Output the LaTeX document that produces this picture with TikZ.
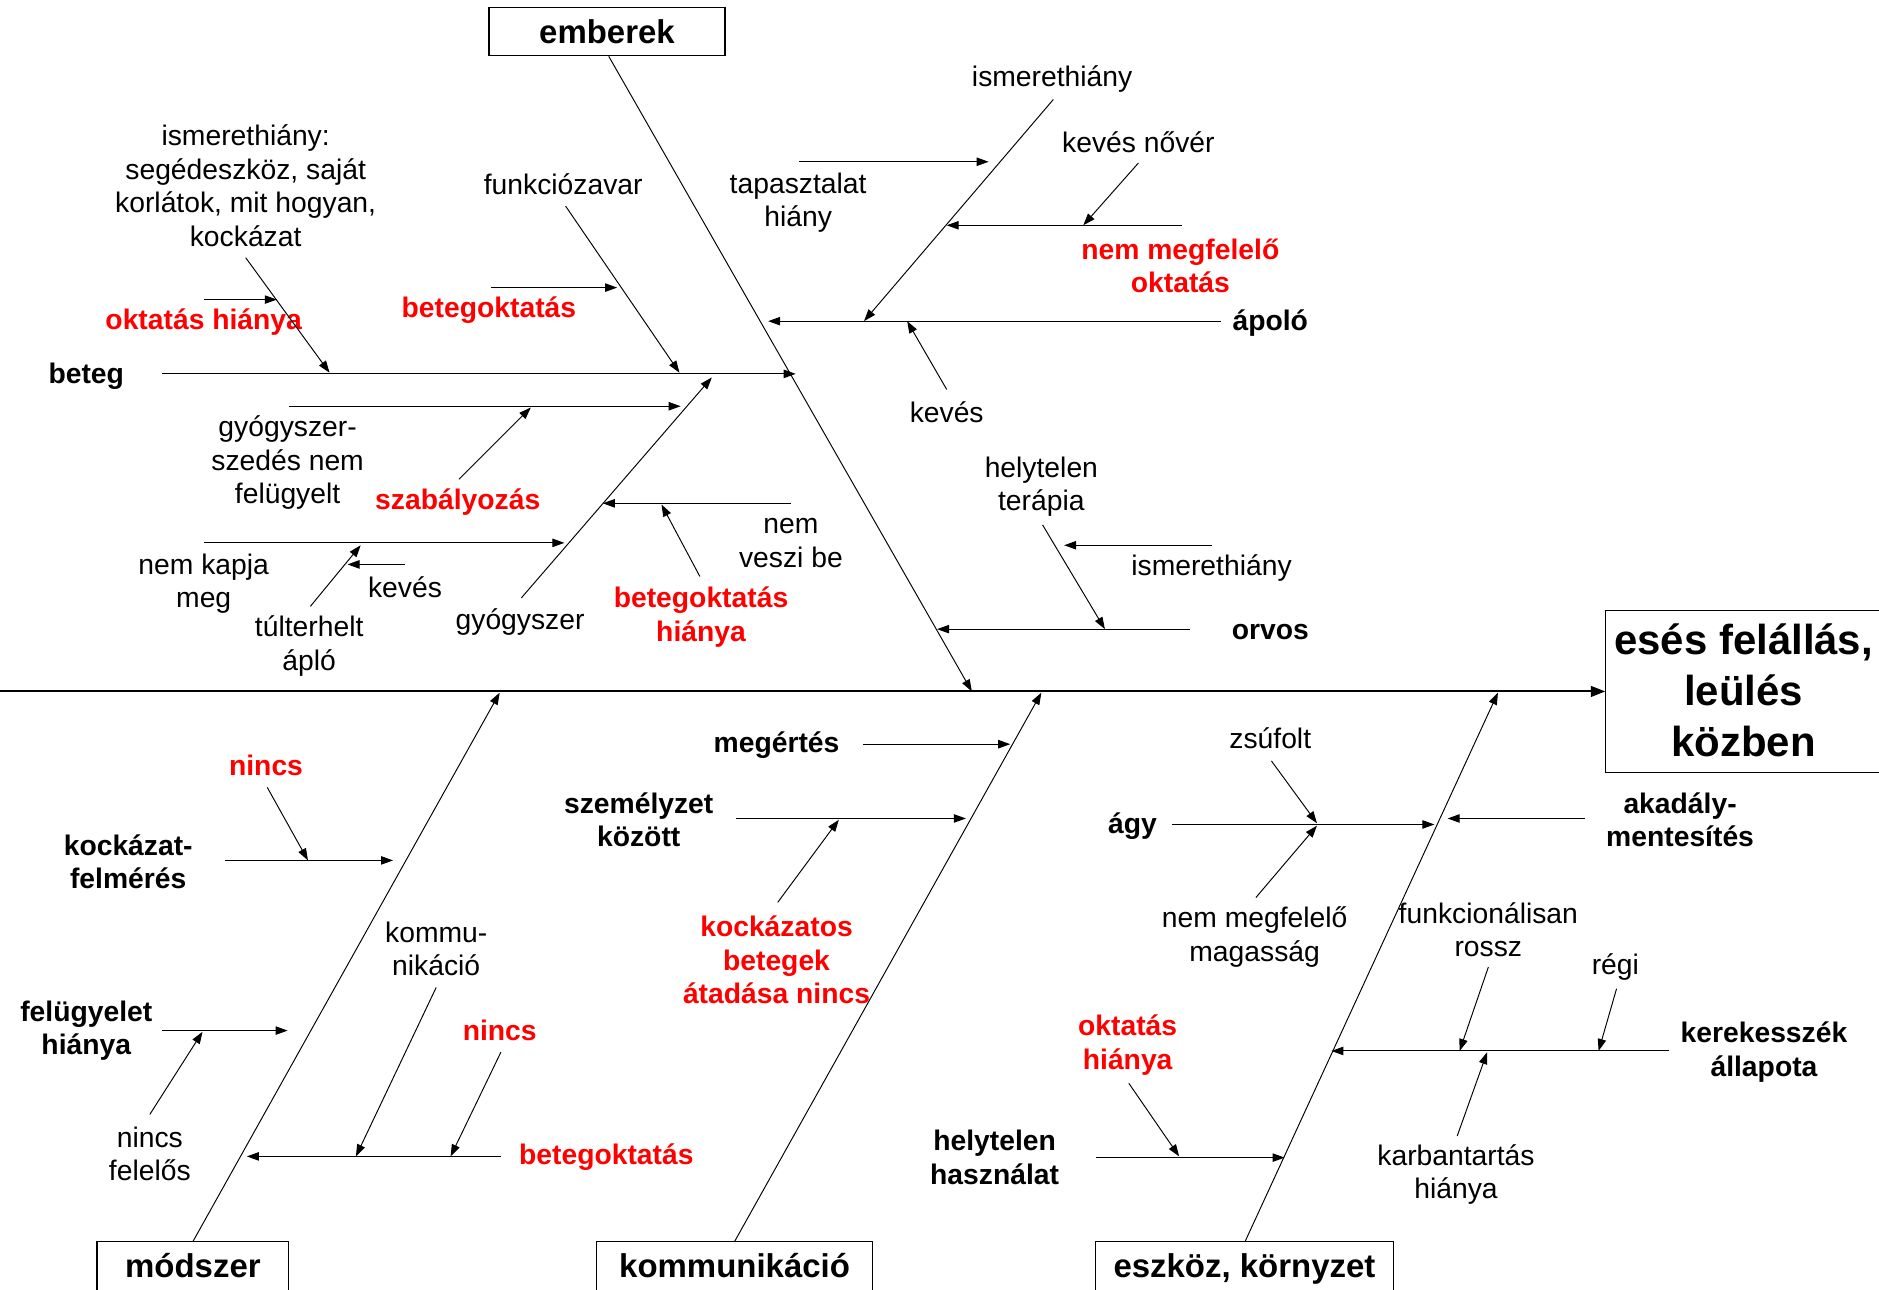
\documentclass[tikz,border=0pt]{standalone}
\usepackage{fontspec}
\setmainfont{Liberation Sans}
\usetikzlibrary{arrows.meta}
\definecolor{fbred}{RGB}{255,0,0}
\begin{document}
\begin{tikzpicture}[x=1pt,y=-1pt,
  txt/.style={inner sep=0pt, align=center, yshift=-2pt, font=\fontsize{23.6}{28}\selectfont},
  btxt/.style={inner sep=0pt, align=center, yshift=-2pt, font=\fontsize{23.6}{28}\selectfont\bfseries},
  rtxt/.style={btxt, text=fbred},
  catbox/.style={draw, line width=1pt, inner sep=0pt, font=\fontsize{27.5}{33}\selectfont\bfseries},
  ar/.style={line width=0.8pt, -{Triangle[length=10pt,width=7pt]}},
  spine/.style={line width=1.6pt, -{Triangle[length=12pt,width=9pt]}}
]
\useasboundingbox (0,0) rectangle (1568,1076);

% ---------- head and category boxes ----------
\node[draw, line width=1pt, minimum width=240pt, minimum height=135pt, inner sep=0pt] (headbox) at (1460,577) {};
\node[inner sep=0pt, align=center, font=\fontsize{35}{42.5}\selectfont\bfseries] (head) at (1455,576) {esés felállás,\\leülés\\közben};
\node[catbox, minimum width=197pt, minimum height=40pt] (emb) at (506.5,26.5) {emberek};
\node[catbox, minimum width=160pt, minimum height=60pt, text depth=20pt] (mod) at (161,1066) {módszer};
\node[catbox, minimum width=230pt, minimum height=60pt, text depth=20pt] (kom) at (613,1066) {kommunikáció};
\node[catbox, minimum width=249pt, minimum height=60pt, text depth=20pt] (esz) at (1038.5,1066) {eszköz, környzet};

% ---------- spine ----------
\coordinate (sp0) at (0,577);
\draw[spine] (sp0) -- (headbox.west);

% ---------- main bones ----------
\coordinate (b1s) at (508,47);   \coordinate (b1e) at (811,577);
\coordinate (b2s) at (161,1036); \coordinate (b2e) at (417,578);
\coordinate (b3s) at (613,1036); \coordinate (b3e) at (869,578);
\coordinate (b4s) at (1039,1036);\coordinate (b4e) at (1250,578);
\draw[ar] (b1s) -- (b1e);
\draw[ar] (b2s) -- (b2e);
\draw[ar] (b3s) -- (b3e);
\draw[ar] (b4s) -- (b4e);

% ---------- emberek: beteg ----------
\node[btxt] (tbeteg) at (72,312) {beteg};
\node[txt] (tism1) at (205,153) {ismerethiány:\\segédeszköz, saját\\korlátok, mit hogyan,\\kockázat};
\node[rtxt] (tokt1) at (170,267) {oktatás hiánya};
\node[txt] (tfunk) at (470,152) {funkciózavar};
\node[rtxt] (tbo1) at (408,257) {betegoktatás};
\node[txt] (tgysz) at (240,384) {gyógyszer-\\szedés nem\\felügyelt};
\node[rtxt] (tszab) at (382,417) {szabályozás};
\node[txt] (tnemk) at (170,485) {nem kapja\\meg};
\node[txt] (ttult) at (258,537) {túlterhelt\\ápló};
\node[txt] (tkev1) at (338,488) {kevés};
\node[txt] (tgyogy) at (434,517) {gyógyszer};
\node[txt] (tnemv) at (660,451) {nem\\veszi be};
\node[rtxt] (tboh) at (585,513) {betegoktatás\\hiánya};

\coordinate (a1s) at (135,312);  \coordinate (a1e) at (664,312);
\coordinate (a2s) at (205,215);  \coordinate (a2e) at (275,311);
\coordinate (a3s) at (170,250);  \coordinate (a3e) at (231,250);
\coordinate (a4s) at (472,172);  \coordinate (a4e) at (567,311);
\coordinate (a5s) at (410,240);  \coordinate (a5e) at (515,240);
\coordinate (a6s) at (241,339);  \coordinate (a6e) at (568,339);
\coordinate (a7s) at (383,400);  \coordinate (a7e) at (443,340);
\coordinate (a8s) at (435,499);  \coordinate (a8e) at (594,315);
\coordinate (a9s) at (170,453);  \coordinate (a9e) at (471,453);
\coordinate (a10s) at (259,506); \coordinate (a10e) at (301,455);
\coordinate (a11s) at (338,471); \coordinate (a11e) at (290,471);
\coordinate (a12s) at (660,420); \coordinate (a12e) at (503,420);
\coordinate (a13s) at (584,481); \coordinate (a13e) at (552,421);
\foreach \i in {1,...,13} {\draw[ar] (a\i s) -- (a\i e);}

% ---------- emberek: ápoló, orvos ----------
\node[btxt] (tapolo) at (1060,268) {ápoló};
\node[txt] (tism2) at (878,64) {ismerethiány};
\node[txt] (ttap) at (666,167) {tapasztalat\\hiány};
\node[txt] (tkevn) at (950,117) {kevés nővér};
\node[rtxt] (tnmo) at (985,220) {nem megfelelő\\oktatás};
\node[txt] (tkev2) at (790,342) {kevés};
\node[txt] (thelyt) at (869,404) {helytelen\\terápia};
\node[txt] (tism3) at (1011,472) {ismerethiány};
\node[btxt] (torvos) at (1060,525) {orvos};

\coordinate (c1s) at (1019,268); \coordinate (c1e) at (641,268);
\coordinate (c2s) at (879,83);   \coordinate (c2e) at (721,268);
\coordinate (c3s) at (667,135);  \coordinate (c3e) at (825,135);
\coordinate (c4s) at (950,136);  \coordinate (c4e) at (904,188);
\coordinate (c5s) at (986,188);  \coordinate (c5e) at (790,188);
\coordinate (c6s) at (790,325);  \coordinate (c6e) at (757,268);
\coordinate (c7s) at (993,525);  \coordinate (c7e) at (782,525);
\coordinate (c8s) at (870,438);  \coordinate (c8e) at (922,525);
\coordinate (c9s) at (1011,455); \coordinate (c9e) at (888,455);
\foreach \i in {1,...,9} {\draw[ar] (c\i s) -- (c\i e);}

% ---------- módszer ----------
\node[btxt] (tkockf) at (107,717) {kockázat-\\felmérés};
\node[rtxt] (tnincs1) at (222,637) {nincs};
\node[btxt] (tfelu) at (72,858) {felügyelet\\hiánya};
\node[txt] (tnincsf) at (125,961) {nincs\\felelős};
\node[txt] (tkommu) at (364,790) {kommu-\\nikáció};
\node[rtxt] (tnincs2) at (417,858) {nincs};
\node[rtxt] (tbo2) at (506,964) {betegoktatás};

\coordinate (d1s) at (188,718);  \coordinate (d1e) at (328,718);
\coordinate (d2s) at (223,657);  \coordinate (d2e) at (257,718);
\coordinate (d3s) at (135,860);  \coordinate (d3e) at (240,860);
\coordinate (d4s) at (125,930);  \coordinate (d4e) at (169,861);
\coordinate (d5s) at (364,824);  \coordinate (d5e) at (297,965);
\coordinate (d6s) at (418,878);  \coordinate (d6e) at (376,965);
\coordinate (d7s) at (418,965);  \coordinate (d7e) at (206,965);
\foreach \i in {1,...,7} {\draw[ar] (d\i s) -- (d\i e);}

% ---------- kommunikáció ----------
\node[btxt] (tmeg) at (648,620) {megértés};
\node[btxt] (tszem) at (533,682) {személyzet\\között};
\node[rtxt] (tkockb) at (648,799) {kockázatos\\betegek\\átadása nincs};

\coordinate (e1s) at (720,621);  \coordinate (e1e) at (843,621);
\coordinate (e2s) at (614,683);  \coordinate (e2e) at (806,683);
\coordinate (e3s) at (649,753);  \coordinate (e3e) at (700,684);
\foreach \i in {1,...,3} {\draw[ar] (e\i s) -- (e\i e);}

% ---------- eszköz, környzet ----------
\node[txt] (tzsuf) at (1060,614) {zsúfolt};
\node[btxt] (tagy) at (945,687) {ágy};
\node[txt] (tnmm) at (1047,780) {nem megfelelő\\magasság};
\node[btxt] (takad) at (1402,682) {akadály-\\mentesítés};
\node[txt] (tfunkr) at (1242,774) {funkcionálisan\\rossz};
\node[txt] (tregi) at (1348,805) {régi};
\node[btxt] (tkerek) at (1472,876) {kerekesszék\\állapota};
\node[txt] (tkarb) at (1215,978) {karbantartás\\hiánya};
\node[rtxt] (tokt2) at (941,870) {oktatás\\hiánya};
\node[btxt] (thelyh) at (830,964) {helytelen\\használat};

\coordinate (f1s) at (1061,635);  \coordinate (f1e) at (1099,687);
\coordinate (f2s) at (978,688);   \coordinate (f2e) at (1197,688);
\coordinate (f3s) at (1048,749);  \coordinate (f3e) at (1099,689);
\coordinate (f4s) at (1323,683);  \coordinate (f4e) at (1208,683);
\coordinate (f5s) at (1242,807);  \coordinate (f5e) at (1218,877);
\coordinate (f6s) at (1349,825);  \coordinate (f6e) at (1334,877);
\coordinate (f7s) at (1393,877);  \coordinate (f7e) at (1111,877);
\coordinate (f8s) at (1216,948);  \coordinate (f8e) at (1241,878);
\coordinate (f9s) at (942,904);   \coordinate (f9e) at (984,965);
\coordinate (f10s) at (915,966);  \coordinate (f10e) at (1072,966);
\foreach \i in {1,...,10} {\draw[ar] (f\i s) -- (f\i e);}
\end{tikzpicture}
\end{document}
